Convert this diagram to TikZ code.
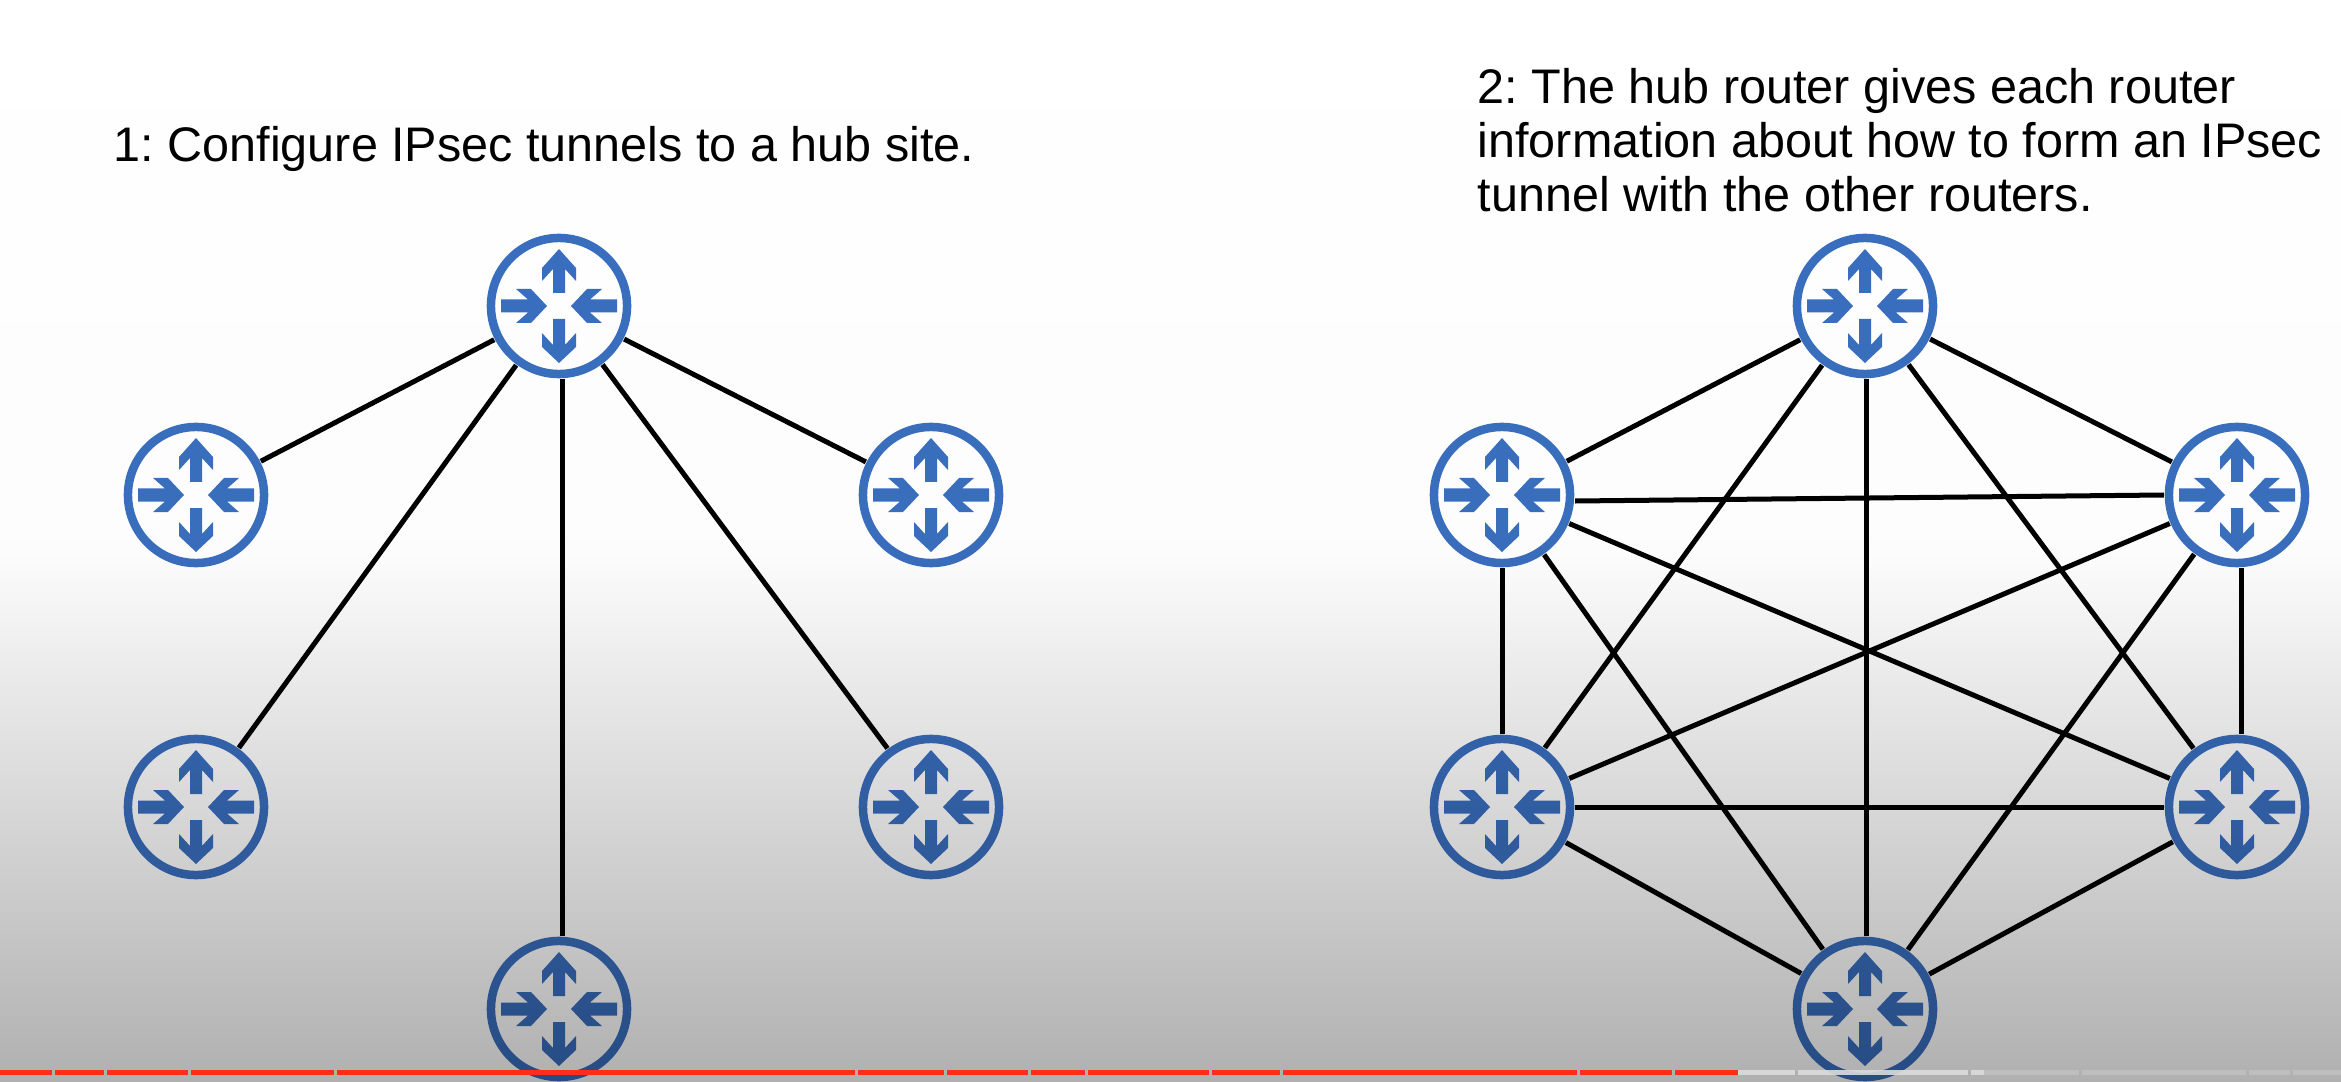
\documentclass[tikz,border=0pt]{standalone}
\usepackage{fontspec}
\setmainfont{Liberation Sans}
\frenchspacing
\usetikzlibrary{calc}
\definecolor{routerblue}{HTML}{3A6FBF}
\definecolor{barred}{HTML}{FF2D1A}
\definecolor{barlight}{HTML}{DCDCDC}
\definecolor{barpale}{HTML}{BEBEBE}
\tikzset{
  router/.style={circle,draw=routerblue,line width=0.085cm,minimum size=1.36cm,inner sep=0pt,outer sep=0.05cm,
    fill=white,fill opacity=0.12,blend mode=multiply},
  glyph/.style={fill=routerblue,draw=none,blend mode=multiply},
  link/.style={draw=black,line width=0.05cm},
  caption/.style={inner sep=0pt,align=left,font=\fontsize{13.8pt}{15.35pt}\selectfont,text=black},
}
% one router: #1 name, #2 position
\newcommand{\routerat}[2]{%
  \node[router] (#1) at (#2) {};
  \begin{scope}[shift={(#2)}]
    \fill[glyph] (0,-57) -- (17,-38) -- (17,-25) -- (6,-37) -- (6,-13) -- (-6,-13) -- (-6,-37) -- (-17,-25) -- (-17,-38) -- cycle;
    \fill[glyph] (0,57) -- (17,41) -- (17,27) -- (6,39) -- (6,13) -- (-6,13) -- (-6,39) -- (-17,27) -- (-17,41) -- cycle;
    \fill[glyph] (-12,0) -- (-28,17) -- (-43,17) -- (-31,6.5) -- (-58,6.5) -- (-58,-6.5) -- (-31,-6.5) -- (-43,-17) -- (-28,-17) -- cycle;
    \fill[glyph] (12,0) -- (28,17) -- (43,17) -- (31,6.5) -- (58,6.5) -- (58,-6.5) -- (31,-6.5) -- (43,-17) -- (28,-17) -- cycle;
  \end{scope}}
\begin{document}
\begin{tikzpicture}[x=0.01cm,y=-0.01cm]
\useasboundingbox (0,0) rectangle (2341,1082);
% background
\fill[white] (0,0) rectangle (2341,1082);
\shade[top color=white,bottom color=white!99!black] (0,0) rectangle (2341,550);
\shade[top color=white!99!black,bottom color=black!31] (0,550) rectangle (2341,1082);
% captions
\node[caption,anchor=base west] (capa) at (113,162) {1: Configure IPsec tunnels to a hub site.};
\node[caption,anchor=south west] (capb) at (1477,212.5) {2: The hub router gives each router\\information about how to form an IPsec\\tunnel with the other routers.};
% routers
\routerat{a1}{559,306}
\routerat{a2}{196,495}
\routerat{a3}{931,495}
\routerat{a4}{196,807}
\routerat{a5}{931,807}
\routerat{a6}{559,1009}
\routerat{b1}{1865,306}
\routerat{b2}{1502,495}
\routerat{b3}{2237,495}
\routerat{b4}{1502,807}
\routerat{b5}{2237,807}
\routerat{b6}{1865,1009}
% links
\foreach \t in {a2,a3,a4,a5} \draw[link] (a1) -- (\t);
\draw[link] ([xshift=0.03cm]a1.south) -- ([xshift=0.03cm]a6.north);
\foreach \s/\t in {b1/b2,b1/b3,b1/b4,b1/b5,b2/b4,b2/b5,b2/b6,b3/b4,b3/b6,b4/b5,b4/b6,b5/b6}
  \draw[link] (\s) -- (\t);
\draw[link] ([xshift=0.015cm]b1.south) -- ([xshift=0.015cm]b6.north);
\draw[link] ([yshift=-0.06cm]b2.east) -- (b3.west);
\draw[link] ([xshift=0.04cm]b3.south) -- ([xshift=0.04cm]b5.north);
% progress bar
\foreach \l/\r in {0/52,55/104,107/188,191/334,337/855,858/944,947/1028,1031/1085,1088/1209,1212/1280,1283/1577,1580/1672,1675/1738}
  \fill[barred] (\l,1070) rectangle (\r,1075);
\foreach \l/\r in {1738/1795,1798/1968,1971/1984}
  \fill[barlight,opacity=.9] (\l,1070) rectangle (\r,1075);
\foreach \l/\r in {1984/2079,2082/2246,2249/2290,2293/2341}
  \fill[barpale] (\l,1070) rectangle (\r,1075);
\end{tikzpicture}
\end{document}
